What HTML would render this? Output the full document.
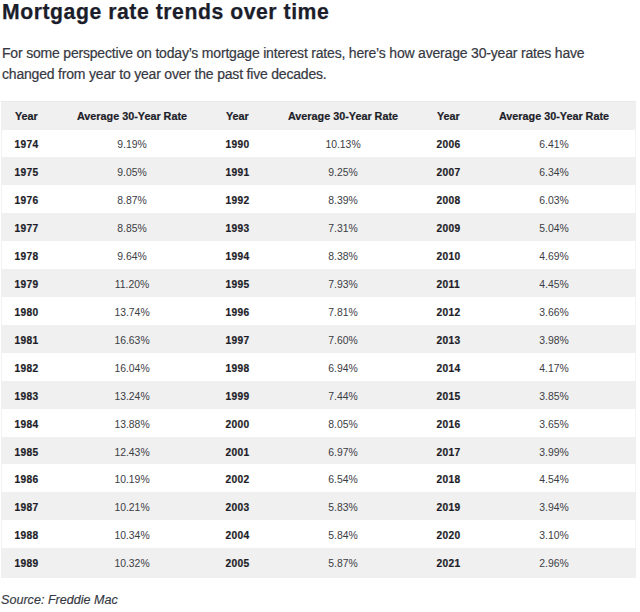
<!DOCTYPE html>
<html><head><meta charset="utf-8"><style>
html,body{margin:0;padding:0;background:#fff;width:640px;height:612px;overflow:hidden;}
body{font-family:"Liberation Sans",sans-serif;position:relative;}
h1{position:absolute;left:2px;top:0;margin:0;font-size:21.2px;letter-spacing:0.55px;-webkit-text-stroke:0.25px #1b1d2b;font-weight:bold;color:#1b1d2b;white-space:nowrap;line-height:24px;}
.intro{position:absolute;left:2px;top:43px;-webkit-text-stroke:0.2px #363842;margin:0;font-size:14px;letter-spacing:-0.19px;line-height:21px;color:#363842;white-space:nowrap;}
.tbl{position:absolute;left:1px;top:101px;width:635px;box-shadow:inset 1px 0 0 #f2f2f2,inset -1px 0 0 #f4f4f4;}
.tbl .row.w{background:transparent;}
.row{position:absolute;left:0;width:635px;height:28px;}
.tbl{height:477px;}
.row.hd,.row.g{background:#f0f0f0;}
.row.w{background:#fff;}
.row span{position:absolute;top:0.5px;line-height:28px;font-size:10.8px;white-space:nowrap;}
.row .y{font-weight:bold;color:#1c1d29;-webkit-text-stroke:0.2px #1c1d29;}
.row .r{color:#3b3d44;text-align:center;width:160px;font-size:10.4px;top:1.5px;}
.row.hd .r{font-weight:bold;color:#1c1d29;font-size:10.8px;top:1px;-webkit-text-stroke:0.2px #1c1d29;}
.c1{left:14px;} .c2{left:51px;} .c3{left:225px;} .c4{left:262px;} .c5{left:436px;} .c6{left:473px;}
.src{position:absolute;left:1px;top:590px;-webkit-text-stroke:0.15px #363842;margin:0;font-size:12.6px;font-style:italic;color:#363842;line-height:20px;}
.row.w .y,.row.g .y{font-size:10.2px;top:2px;letter-spacing:0.4px;margin-left:-0.6px;}
.row.hd{box-shadow:inset 0 1px 0 #eaeaea;}

</style></head><body>
<h1>Mortgage rate trends over time</h1>
<p class="intro">For some perspective on today&#8217;s mortgage interest rates, here&#8217;s how average 30-year rates have<br>changed from year to year over the past five decades.</p>
<div class="tbl">
<div class="row hd" style="top:0;height:29px;z-index:1"><span class="y c1">Year</span><span class="r c2">Average 30-Year Rate</span><span class="y c3">Year</span><span class="r c4">Average 30-Year Rate</span><span class="y c5">Year</span><span class="r c6">Average 30-Year Rate</span></div>
<div class="row w" style="top:28px;height:28px"><span class="y c1">1974</span><span class="r c2">9.19%</span><span class="y c3">1990</span><span class="r c4">10.13%</span><span class="y c5">2006</span><span class="r c6">6.41%</span></div>
<div class="row g" style="top:56px;height:28px"><span class="y c1">1975</span><span class="r c2">9.05%</span><span class="y c3">1991</span><span class="r c4">9.25%</span><span class="y c5">2007</span><span class="r c6">6.34%</span></div>
<div class="row w" style="top:84px;height:28px"><span class="y c1">1976</span><span class="r c2">8.87%</span><span class="y c3">1992</span><span class="r c4">8.39%</span><span class="y c5">2008</span><span class="r c6">6.03%</span></div>
<div class="row g" style="top:112px;height:28px"><span class="y c1">1977</span><span class="r c2">8.85%</span><span class="y c3">1993</span><span class="r c4">7.31%</span><span class="y c5">2009</span><span class="r c6">5.04%</span></div>
<div class="row w" style="top:140px;height:28px"><span class="y c1">1978</span><span class="r c2">9.64%</span><span class="y c3">1994</span><span class="r c4">8.38%</span><span class="y c5">2010</span><span class="r c6">4.69%</span></div>
<div class="row g" style="top:168px;height:28px"><span class="y c1">1979</span><span class="r c2">11.20%</span><span class="y c3">1995</span><span class="r c4">7.93%</span><span class="y c5">2011</span><span class="r c6">4.45%</span></div>
<div class="row w" style="top:196px;height:28px"><span class="y c1">1980</span><span class="r c2">13.74%</span><span class="y c3">1996</span><span class="r c4">7.81%</span><span class="y c5">2012</span><span class="r c6">3.66%</span></div>
<div class="row g" style="top:224px;height:28px"><span class="y c1">1981</span><span class="r c2">16.63%</span><span class="y c3">1997</span><span class="r c4">7.60%</span><span class="y c5">2013</span><span class="r c6">3.98%</span></div>
<div class="row w" style="top:252px;height:28px"><span class="y c1">1982</span><span class="r c2">16.04%</span><span class="y c3">1998</span><span class="r c4">6.94%</span><span class="y c5">2014</span><span class="r c6">4.17%</span></div>
<div class="row g" style="top:280px;height:28px"><span class="y c1">1983</span><span class="r c2">13.24%</span><span class="y c3">1999</span><span class="r c4">7.44%</span><span class="y c5">2015</span><span class="r c6">3.85%</span></div>
<div class="row w" style="top:308px;height:28px"><span class="y c1">1984</span><span class="r c2">13.88%</span><span class="y c3">2000</span><span class="r c4">8.05%</span><span class="y c5">2016</span><span class="r c6">3.65%</span></div>
<div class="row g" style="top:336px;height:27px"><span class="y c1">1985</span><span class="r c2">12.43%</span><span class="y c3">2001</span><span class="r c4">6.97%</span><span class="y c5">2017</span><span class="r c6">3.99%</span></div>
<div class="row w" style="top:363px;height:28px"><span class="y c1">1986</span><span class="r c2">10.19%</span><span class="y c3">2002</span><span class="r c4">6.54%</span><span class="y c5">2018</span><span class="r c6">4.54%</span></div>
<div class="row g" style="top:391px;height:28px"><span class="y c1">1987</span><span class="r c2">10.21%</span><span class="y c3">2003</span><span class="r c4">5.83%</span><span class="y c5">2019</span><span class="r c6">3.94%</span></div>
<div class="row w" style="top:419px;height:28px"><span class="y c1">1988</span><span class="r c2">10.34%</span><span class="y c3">2004</span><span class="r c4">5.84%</span><span class="y c5">2020</span><span class="r c6">3.10%</span></div>
<div class="row g" style="top:447px;height:30px"><span class="y c1">1989</span><span class="r c2">10.32%</span><span class="y c3">2005</span><span class="r c4">5.87%</span><span class="y c5">2021</span><span class="r c6">2.96%</span></div>
</div>
<p class="src">Source: Freddie Mac</p>
</body></html>
